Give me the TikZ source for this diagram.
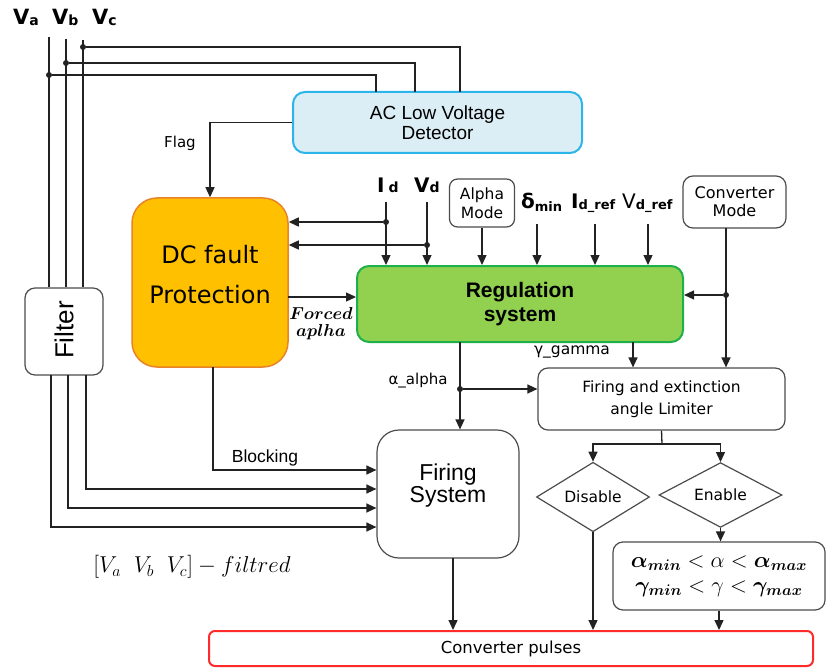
\documentclass[tikz,border=0pt]{standalone}
\usepackage{amsmath,bm}
\usepackage{fontspec}
\setmainfont{Liberation Sans}
\newfontfamily\tah{DejaVu Sans}
\usetikzlibrary{arrows.meta,shapes.geometric}

\definecolor{acfill}{HTML}{DCEEF5}
\definecolor{acline}{HTML}{2BB5E9}
\definecolor{dcfill}{HTML}{FFC000}
\definecolor{dcline}{HTML}{E8832A}
\definecolor{regfill}{HTML}{92D050}
\definecolor{regline}{HTML}{1DB04B}
\definecolor{pulline}{HTML}{FF2A2A}
\definecolor{wire}{HTML}{222222}

\tikzset{
  ln/.style={line width=1.3pt, draw=wire},
  arr/.style={ln, -{Triangle[length=10pt,width=9pt]}},
  jdot/.style={circle, fill=wire, inner sep=0pt, minimum size=6pt},
  blk/.style={rectangle, rounded corners=#1, draw=black!70, line width=1.2pt,
              fill=white, align=center, inner sep=0pt},
  dia/.style={diamond, draw=black!70, line width=1.2pt, fill=white, inner sep=0pt,
              font=\tah\fontsize{15.5}{18}\selectfont},
  lbl/.style={inner sep=0pt, anchor=base west},
}

\begin{document}
\begin{tikzpicture}[x=1pt,y=-1pt]
\useasboundingbox (0,0) rectangle (826,668);

% ---------- blocks ----------
\node[blk=12pt, draw=acline, fill=acfill, line width=2pt,
      minimum width=289, minimum height=61,
      font=\fontsize{19}{20}\selectfont] (ac) at (437.5,122.5) {AC Low Voltage\\Detector};

\node[blk=25pt, draw=dcline, fill=dcfill, line width=1.5pt,
      minimum width=156, minimum height=169] (dc) at (210,282.5) {};
\node[align=center, inner sep=0pt, font=\tah\fontsize{24}{40}\selectfont] (dctext) at (210,275) {DC fault\\Protection};

\node[blk=12pt, draw=regline, fill=regfill, line width=2pt,
      minimum width=326, minimum height=76,
      font=\bfseries\fontsize{21}{24}\selectfont] (reg) at (520,304) {Regulation\\system};

\node[blk=8pt, minimum width=65, minimum height=48,
      font=\tah\fontsize{15.5}{19}\selectfont] (am) at (482,203) {Alpha\\Mode};

\node[blk=10pt, minimum width=103, minimum height=52,
      font=\tah\fontsize{16}{18}\selectfont] (cm) at (734.5,202) {Converter\\Mode};

\node[blk=10pt, minimum width=247, minimum height=62,
      font=\tah\fontsize{15.5}{22}\selectfont] (lim) at (661.5,399) {Firing and extinction\\angle Limiter};

\node[blk=22pt, minimum width=142, minimum height=128] (fs) at (448,494) {};
\node[align=center, inner sep=0pt, font=\fontsize{23}{22}\selectfont] (fstext) at (448,486) {Firing\\System};

\node[blk=10pt, minimum width=78, minimum height=87] (flt) at (64,331.5) {};
\node[rotate=90, inner sep=0pt, font=\fontsize{26}{26}\selectfont] (flttext) at (64,330) {Filter};

\node[dia, minimum width=113, minimum height=53] (dis) at (593,497) {Disable};
\node[dia, minimum width=123, minimum height=54] (en) at (720.5,495) {Enable};

\node[blk=10pt, minimum width=212, minimum height=68,
      font=\fontsize{20}{25}\selectfont] (cons) at (719,576)
  {\scalebox{1.07}{$\bm{\alpha}_{\bm{min}} < \alpha < \bm{\alpha}_{\bm{max}}$}\\
   \scalebox{1.07}{$\bm{\gamma}_{\bm{min}} < \gamma < \bm{\gamma}_{\bm{max}}$}};

\node[blk=6pt, draw=pulline, line width=2pt, minimum width=604, minimum height=35,
      font=\tah\fontsize{16.5}{18}\selectfont] (pul) at (511,648.5) {Converter pulses};

% ---------- phase labels ----------
\node[lbl] (va) at (13,25) {\tah\bfseries\fontsize{21}{21}\selectfont V\fontsize{14}{14}\selectfont\raisebox{-1pt}{a}};
\node[lbl] (vb) at (52,25) {\tah\bfseries\fontsize{21}{21}\selectfont V\fontsize{14}{14}\selectfont\raisebox{-1pt}{b}};
\node[lbl] (vc) at (92,25) {\tah\bfseries\fontsize{21}{21}\selectfont V\fontsize{14}{14}\selectfont\raisebox{-1pt}{c}};

% ---------- regulation inputs ----------
\node[lbl] (idl) at (377,193) {\tah\bfseries\fontsize{20}{20}\selectfont I\hspace{4pt}\fontsize{14}{14}\selectfont d};
\node[lbl] (vdl) at (414,193) {\tah\bfseries\fontsize{20}{20}\selectfont V\fontsize{14}{14}\selectfont d};
\node[lbl] (dml) at (521,209) {\tah\bfseries\fontsize{20}{20}\selectfont δ\fontsize{13}{13}\selectfont\raisebox{-2pt}{min}};
\node[lbl] (irl) at (571,209) {\tah\bfseries\fontsize{20}{20}\selectfont I\fontsize{13}{13}\selectfont\raisebox{-1pt}{d\_ref}};
\node[lbl] (vrl) at (622,209) {\tah\fontsize{20}{20}\selectfont V\bfseries\fontsize{13}{13}\selectfont\raisebox{-1pt}{d\_ref}};

% ---------- phase wires to the filter ----------
\coordinate (vaT) at (49,37);
\coordinate (vbT) at (66,39);
\coordinate (vcT) at (83,40);
\draw[ln] (vaT) -- (vaT |- flt.north);
\draw[ln] (vbT) -- (vbT |- flt.north);
\draw[ln] (vcT) -- (vcT |- flt.north);

% taps feeding the AC low voltage detector
\node[jdot] (tapa) at (49,75) {};
\node[jdot] (tapb) at (66,63) {};
\node[jdot] (tapc) at (83,47) {};
\coordinate (aca) at (376,92);
\coordinate (acb) at (415,92);
\coordinate (acc) at (460,92);
\draw[ln] (tapa) -| (aca);
\draw[ln] (tapb) -| (acb);
\draw[ln] (tapc) -| (acc);

% flag
\draw[arr] (ac.west) -| (dc.north);
\node[inner sep=0pt, font=\tah\fontsize{15}{15}\selectfont] (flag) at (180,143) {Flag};

% Id and Vd measurements
\coordinate (idT) at (386,202);
\coordinate (vdT) at (427,202);
\draw[arr] (idT) -- (idT |- reg.north);
\draw[arr] (vdT) -- (vdT |- reg.north);
\node[jdot] (idJ) at (386,222) {};
\node[jdot] (vdJ) at (427,245) {};
\draw[arr] (idJ) -- (idJ -| dc.east);
\draw[arr] (vdJ) -- (vdJ -| dc.east);

% references
\draw[arr] (am.south) -- (am.south |- reg.north);
\coordinate (dmT) at (537,224);
\coordinate (irT) at (595,224);
\coordinate (vrT) at (648,224);
\draw[arr] (dmT) -- (dmT |- reg.north);
\draw[arr] (irT) -- (irT |- reg.north);
\draw[arr] (vrT) -- (vrT |- reg.north);

% converter mode
\coordinate (cmB) at (726,228);
\node[jdot] (cmJ) at (726,295) {};
\draw[arr] (cmB) -- (cmB |- lim.north);
\draw[arr] (cmJ) -- (cmJ -| reg.east);

% forced alpha
\coordinate (faS) at (288,297);
\draw[arr] (faS) -- (faS -| reg.west);
\node[align=center, inner sep=0pt, font=\fontsize{16.5}{17}\selectfont] (falbl) at (321,324)
  {$\bm{Forced}$\\$\bm{aplha}$};

% alpha and gamma outputs
\coordinate (alS) at (460,342);
\node[jdot] (alJ) at (460,389) {};
\draw[arr] (alS) -- (alS |- fs.north);
\draw[arr] (alJ) -- (alJ -| lim.west);
\node[inner sep=0pt, font=\tah\fontsize{15}{15}\selectfont] (allbl) at (418,381) {α\_alpha};
\coordinate (gaS) at (633,342);
\draw[arr] (gaS) -- (gaS |- lim.north);
\node[inner sep=0pt, font=\tah\fontsize{15.5}{15}\selectfont] (galbl) at (572,352) {γ\_gamma};

% limiter branches
\coordinate (brc) at (662,444);
\draw[ln] (lim.south) -- (brc);
\draw[arr] (brc) -| (dis.north);
\draw[arr] (brc) -| (en.north);
\draw[arr] (dis.south) -- (dis.south |- pul.north);
\draw[arr] (en.south) -- (en.south |- cons.north);
\draw[arr] (cons.south) -- (cons.south |- pul.north);

% firing system output
\coordinate (fsB) at (453,558);
\draw[arr] (fsB) -- (fsB |- pul.north);

% blocking and filtered phases into the firing system
\coordinate (blS) at (213,367);
\coordinate (blC) at (213,470);
\draw[arr] (blS) -- (blC) -- (blC -| fs.west);
\node[inner sep=0pt, font=\fontsize{17.5}{17}\selectfont] (bllbl) at (265,458) {Blocking};

\coordinate (vcB) at (86,375);
\coordinate (vbB) at (68,375);
\coordinate (vaB) at (51,375);
\coordinate (vcC) at (86,489);
\coordinate (vbC) at (68,508);
\coordinate (vaC) at (51,527);
\draw[arr] (vcB) -- (vcC) -- (vcC -| fs.west);
\draw[arr] (vbB) -- (vbC) -- (vbC -| fs.west);
\draw[arr] (vaB) -- (vaC) -- (vaC -| fs.west);

\node[inner sep=0pt, font=\fontsize{17}{17}\selectfont] (filt) at (192,567)
  {\scalebox{1.33}{$[V_a\ \ V_b\ \ V_c]-filtred$}};
\end{tikzpicture}
\end{document}
